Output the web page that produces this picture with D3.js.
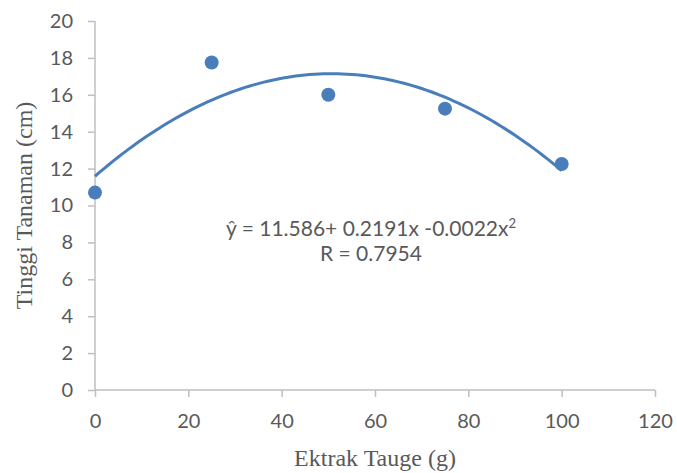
<!DOCTYPE html>
<html>
<head>
<meta charset="utf-8">
<script src="https://cdn.jsdelivr.net/npm/d3@7"></script>
<style>
  body { margin: 0; background: #fff; }
  svg { display: block; }
</style>
</head>
<body>
<svg width="677" height="473"></svg>
<script>
// data
var doses = [0, 25, 50, 75, 100];
var heights = [10.7, 17.75, 16.0, 15.25, 12.25];
// trendline as drawn (label shows the rounded -0.0022)
var coef = [11.586, 0.2191, -0.00216];
var xTicks = [0, 20, 40, 60, 80, 100, 120];
var yTicks = [0, 2, 4, 6, 8, 10, 12, 14, 16, 18, 20];
var eqLine = 'ŷ = 11.586+ 0.2191x -0.0022x';
var rLine = 'R = 0.7954';

var width = 677;
var height = 473;
var margin = {top: 21, bottom: 83, left: 95, right: 22};

var svg = d3.select('svg');

var xScale = d3.scaleLinear()
    .domain([0, 120])
    .range([margin.left, width - margin.right]);
var yScale = d3.scaleLinear()
    .domain([0, 20])
    .range([height - margin.bottom, margin.top]);

var axisColor = '#bfbfbf';
var textColor = '#595959';
var tickFont = 'Lato, "Open Sans", sans-serif';
var titleFont = '"Liberation Serif", "Times New Roman", serif';

// axes
var xAxis = d3.axisBottom(xScale).tickValues(xTicks).tickSize(7).tickPadding(17);
var yAxis = d3.axisLeft(yScale).tickValues(yTicks).tickSize(7).tickPadding(15);

var gx = svg.append('g')
    .attr('transform', 'translate(' + [0, yScale(0)] + ')')
    .call(xAxis);
var gy = svg.append('g')
    .attr('transform', 'translate(' + [xScale(0), 0] + ')')
    .call(yAxis);

[gx, gy].forEach(function(g) {
    g.select('.domain').attr('stroke', axisColor).attr('stroke-width', 1.5);
    g.selectAll('.tick line').attr('stroke', axisColor).attr('stroke-width', 1.5);
    g.selectAll('.tick text')
        .attr('fill', textColor)
        .style('font-family', tickFont)
        .style('font-size', '20px');
});
gx.select('.domain').attr('d', 'M' + xScale(0) + ',0H' + xScale(120));
gy.select('.domain').attr('d', 'M0,' + yScale(0) + 'V' + yScale(20));

// trendline
var curve = d3.range(0, 100.5, 1).map(function(x) {
    return [x, coef[0] + coef[1] * x + coef[2] * x * x];
});
svg.append('path')
    .datum(curve)
    .attr('fill', 'none')
    .attr('stroke', '#4a7ebb')
    .attr('stroke-width', 3)
    .attr('d', d3.line().x(d => xScale(d[0])).y(d => yScale(d[1])));

// points
svg.selectAll('circle.pt')
    .data(doses)
    .enter().append('circle')
    .attr('class', 'pt')
    .attr('cx', d => xScale(d))
    .attr('cy', (d, i) => yScale(heights[i]))
    .attr('r', 7)
    .attr('fill', '#4a7ebb');

// equation label
var eq = svg.append('text')
    .attr('x', 371)
    .attr('y', 236)
    .attr('text-anchor', 'middle')
    .attr('fill', textColor)
    .style('font-family', tickFont)
    .style('font-size', '21px');
eq.append('tspan').text(eqLine);
eq.append('tspan').attr('dy', -8).style('font-size', '13px').text('2');

svg.append('text')
    .attr('x', 371)
    .attr('y', 261)
    .attr('text-anchor', 'middle')
    .attr('fill', textColor)
    .style('font-family', tickFont)
    .style('font-size', '21px')
    .text(rLine);

// axis titles
svg.append('text')
    .attr('x', xScale(60))
    .attr('y', 466)
    .attr('text-anchor', 'middle')
    .attr('fill', textColor)
    .style('font-family', titleFont)
    .style('font-size', '24px')
    .text('Ektrak Tauge (g)');

svg.append('text')
    .attr('transform', 'translate(32,' + yScale(10) + ') rotate(-90)')
    .attr('text-anchor', 'middle')
    .attr('fill', textColor)
    .style('font-family', titleFont)
    .style('font-size', '24px')
    .text('Tinggi Tanaman (cm)');
</script>
</body>
</html>
